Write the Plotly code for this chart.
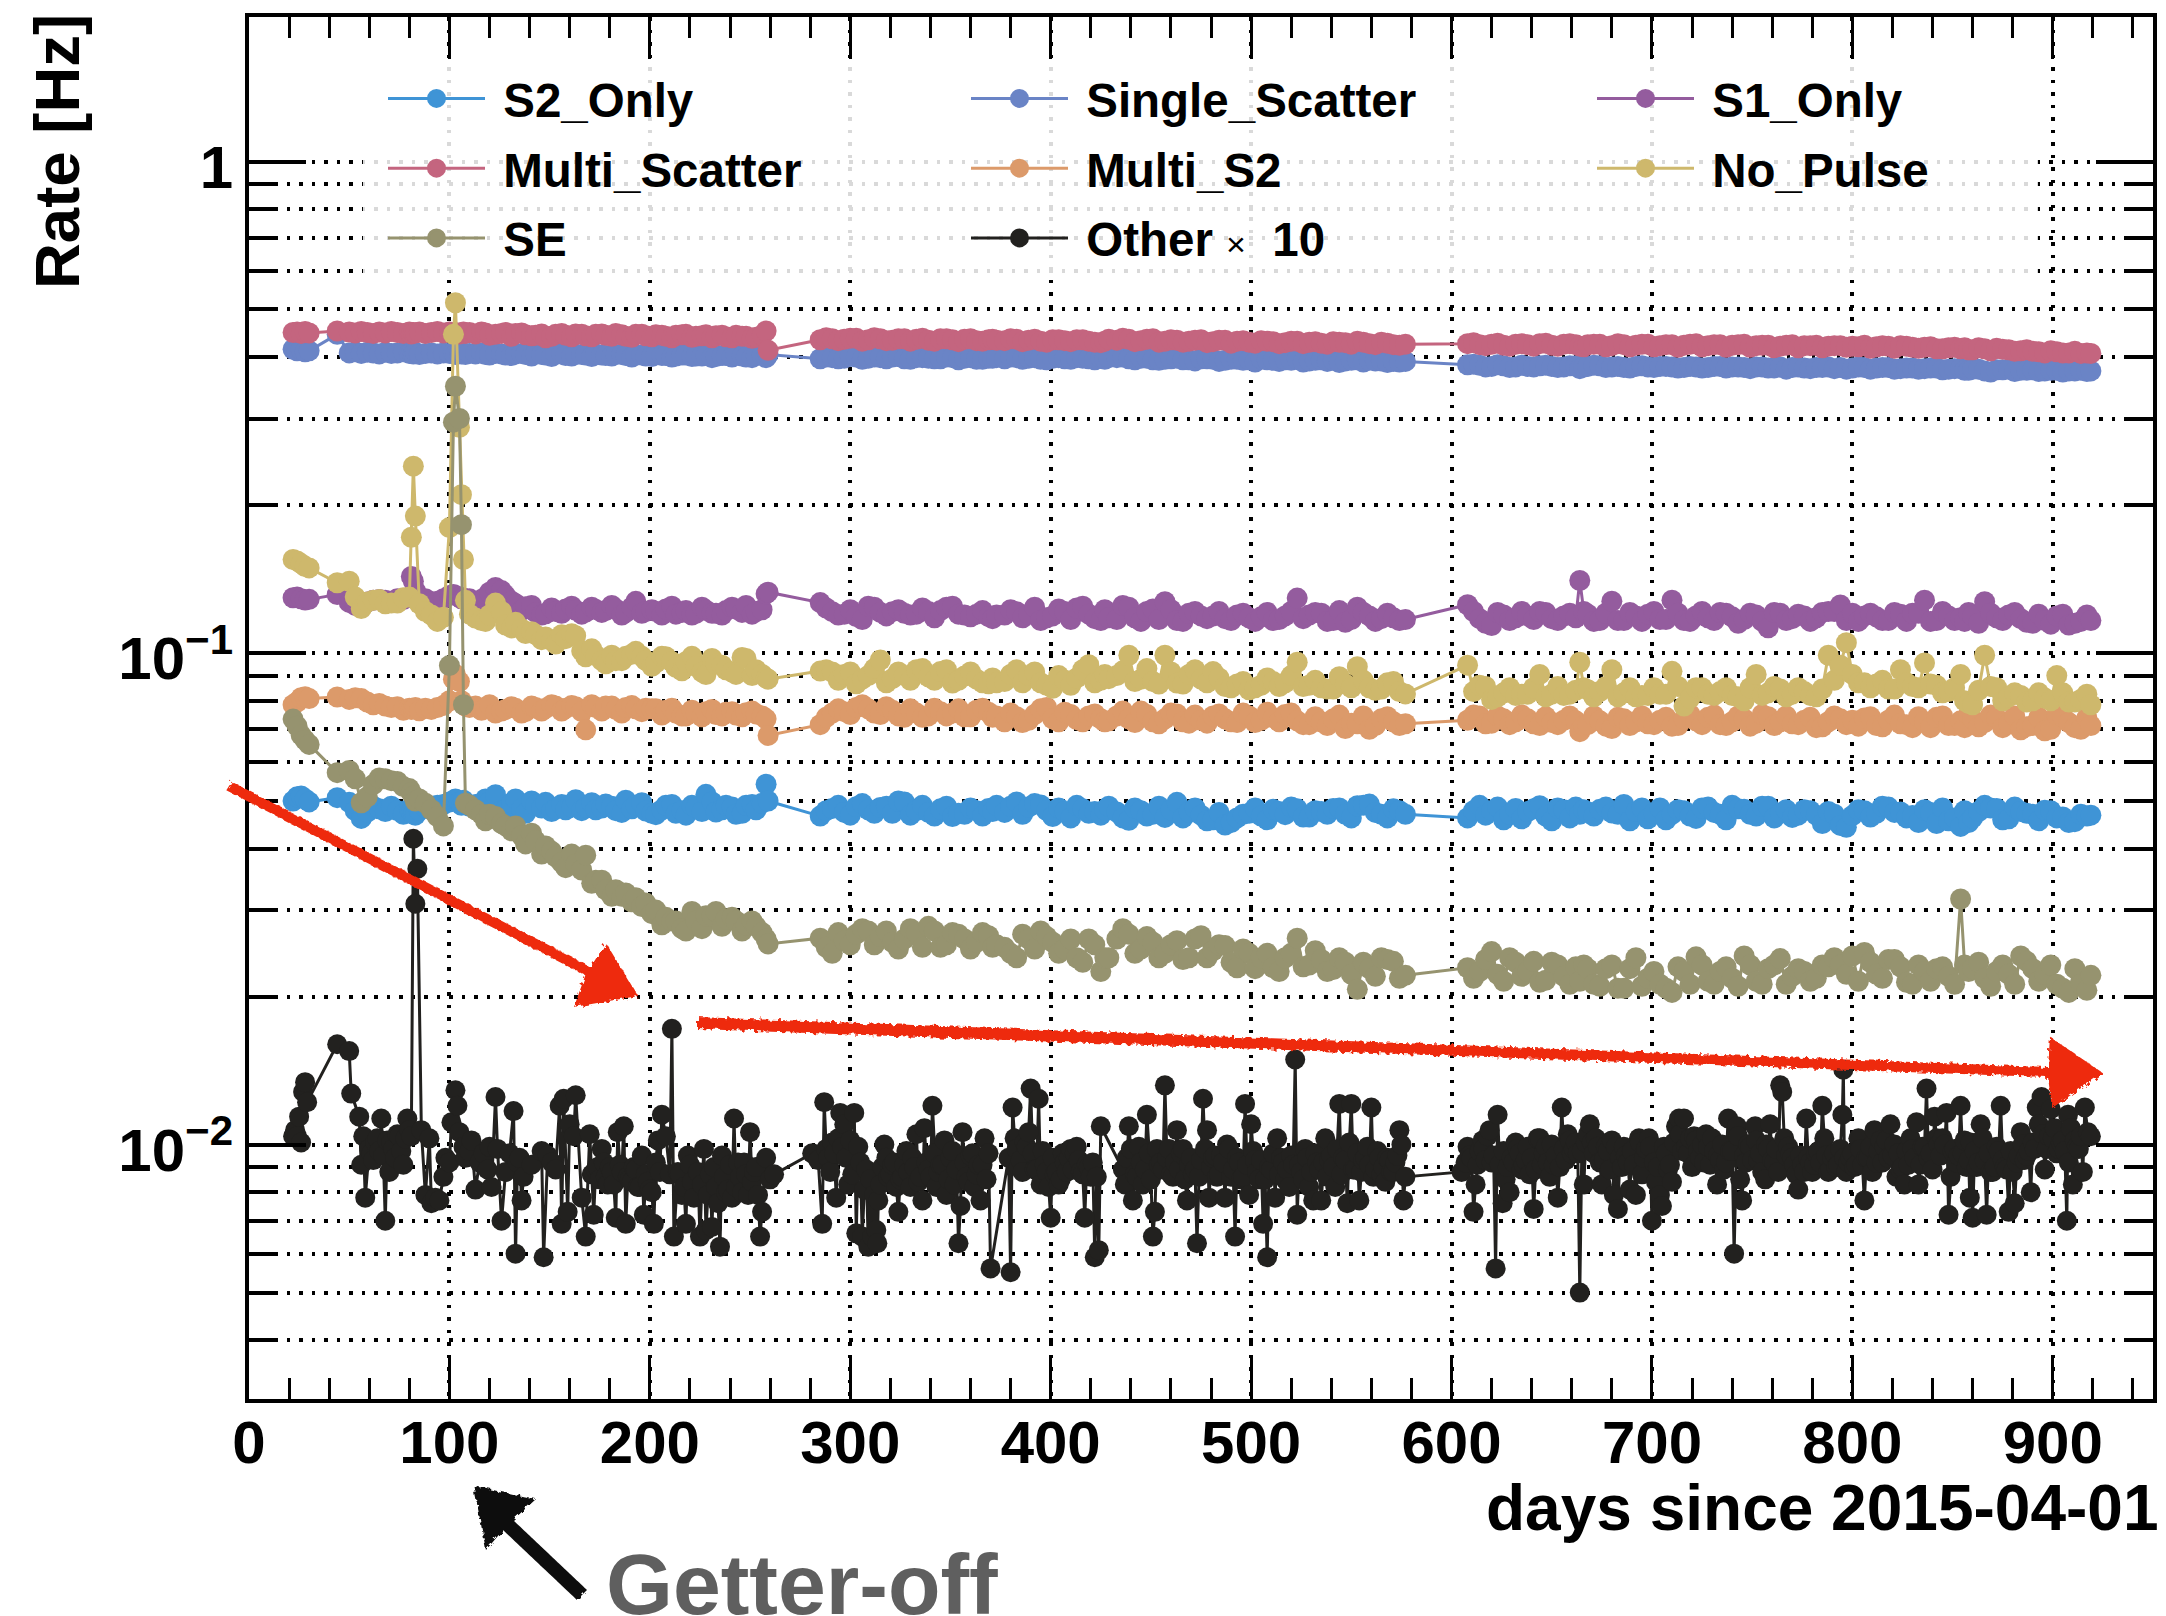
import plotly.graph_objects as go

# ---------- data ----------
days = (
    [22,24,26,28,30]
  + [44,50,53,56,59,62,65,68,71,74,77,80,81,82,83,85,88,91,94,97,100,102,103,105,106,107,108,110]
  + [113,118,123,128,133,138,143,148,153,158,163,168,173,178,183,188,193,198,203,208,213,218,223,228,233,238,243,248,253,256,258,259]
  + [285,291,297,303,309,315,321,327,333,339,345,351,357,363,369,373]
  + [377,383,389,395,401,407,413,419,425,429]
  + [433,439,445,451,457,463,469,475,481,487,493,499,505,511,517,523,529,535,541,547,553,559,565,571,577]
  + [608,614,620,626,632,638,644,650,656,662,664,668,674,680,686,692,698,704,710,716,722,728,734,740,746,752,758,764,770,776,
     782,788,794,797,800,806,812,818,824,830,836,842,848,854,856,860,866,872,878,884,890,896,902,908,914,919]
)
# further readings inside the dense bands
days_b = (
    [116,120,126,131,136,141,146,151,156,161,166,171,176,181,186,191,196,201,206,211,216,221,226,231,236,241,246,251]
  + [288,294,300,306,312,318,324,330,336,342,348,354,360,366,371]
  + [380,386,392,398,404,410,416,422,427]
  + [436,442,448,454,460,466,472,478,484,490,496,502,508,514,520,526,532,538,544,550,556,562,568,574]
  + [611,617,623,629,635,641,647,653,659,666,671,677,683,689,695,701,707,713,719,725,731,737,743,749,755,761,767,773,779,785,791,
     803,809,815,821,827,833,839,845,851,858,863,869,875,881,887,893,899,905,911,917]
)

s2_only = (
    [.0500,.0510,.0512,.0505,.0498]
  + [.0508,.0497,.0478,.0461,.0475,.0488,.0482,.0476,.0488,.0478,.0470,.0482,.0475,.0470,.0468,.0478,.0485,.0480,.0490,.0492,.0498,.0500,.0505,.0498,.0490,.0502,.0495,.0488]
  + [.0492,.0505,.0515,.0480,.0505,.0472,.0490,.0497,.0482,.0480,.0503,.0486,.0480,.0493,.0478,.0502,.0490,.0477,.0469,.0490,.0472,.0468,.0485,.0516,.0475,.0490,.0470,.0490,.0480,.0495,.0541,.0500]
  + [.0466,.0483,.0474,.0487,.0480,.0485,.0472,.0498,.0478,.0474,.0482,.0465,.0470,.0478,.0483,.0490]
  + [.0474,.0498,.0486,.0491,.0465,.0476,.0490,.0472,.0468,.0488]
  + [.0475,.0457,.0478,.0470,.0463,.0497,.0475,.0468,.0458,.0447,.0462,.0472,.0466,.0481,.0469,.0482,.0464,.0476,.0483,.0470,.0489,.0493,.0470,.0482,.0470]
  + [.0462,.0490,.0478,.0458,.0483,.0476,.0489,.0456,.0480,.0486,.0470,.0475,.0481,.0473,.0492,.0476,.0460,.0484,.0470,.0478,
     .0461,.0486,.0470,.0490,.0481,.0466,.0488,.0472,.0463,.0480,.0468,.0476,.0446,.0442,.0467,.0478,.0472,.0486,.0475,.0467,
     .0480,.0450,.0456,.0444,.0478,.0462,.0490,.0483,.0460,.0476,.0470,.0479,.0462,.0452,.0470,.0468]
)
s2_only_b = (
    [.0488,.0498,.0478,.0495,.0482,.0500,.0484,.0476,.0492,.0486,.0478,.0496,.0484,.0488,.0474,.0482,.0496,.0472,.0480,.0492,.0478,.0490,.0476,.0498,.0480,.0486,.0472,.0492]
  + [.0478,.0490,.0468,.0494,.0472,.0488,.0500,.0468,.0490,.0466,.0488,.0472,.0484,.0466,.0476]
  + [.0488,.0470,.0494,.0478,.0484,.0462,.0482,.0476,.0480]
  + [.0462,.0484,.0466,.0488,.0480,.0462,.0484,.0456,.0474,.0452,.0470,.0484,.0458,.0476,.0486,.0464,.0478,.0470,.0484,.0462,.0490,.0474,.0462,.0478]
  + [.0478,.0468,.0486,.0470,.0460,.0482,.0466,.0484,.0462,.0480,.0466,.0486,.0470,.0456,.0484,.0472,.0458,.0480,.0466,.0484,
     .0474,.0458,.0482,.0470,.0488,.0462,.0480,.0468,.0478,.0450,.0470,.0480,.0464,.0488,.0474,.0462,.0452,.0474,.0484,.0462,
     .0452,.0476,.0484,.0458,.0486,.0472,.0456,.0478,.0464,.0454,.0466]
)

single_scatter = (
    [.415,.412,.414,.410,.412]
  + [.445,.408,.410,.407,.409,.408,.406,.409,.407,.408,.410,.407,.408,.406,.409,.405,.407,.408,.406,.408,.407,.409,.405,.407,.406,.408,.405,.407]
  + [.406,.405,.407,.404,.406,.405,.407,.404,.406,.403,.405,.404,.406,.403,.405,.403,.404,.402,.405,.403,.402,.404,.402,.403,.401,.403,.404,.400,.403,.404,.399,.405]
  + [.397,.399,.398,.400,.398,.399,.400,.397,.399,.398,.397,.399,.398,.396,.398,.399]
  + [.397,.399,.398,.396,.398,.397,.399,.397,.398,.399]
  + [.399,.397,.398,.395,.396,.398,.395,.397,.396,.394,.396,.395,.397,.394,.395,.396,.393,.395,.394,.393,.395,.394,.393,.392,.392]
  + [.386,.385,.383,.384,.382,.383,.384,.383,.382,.384,.379,.383,.384,.382,.381,.383,.382,.383,.382,.381,
     .382,.381,.383,.382,.381,.382,.380,.382,.381,.380,.381,.382,.381,.378,.380,.381,.380,.381,.379,.380,
     .379,.380,.378,.379,.376,.378,.375,.377,.378,.376,.377,.375,.376,.375,.376,.375]
)
single_scatter_b = (
    [.408,.404,.406,.403,.407,.402,.405,.401,.406,.402,.405,.401,.404,.402,.405,.400,.404,.401,.403,.400,.404,.401,.402,.399,.403,.400,.402,.399]
  + [.400,.397,.401,.396,.400,.397,.401,.396,.399,.397,.400,.395,.399,.396,.398]
  + [.400,.396,.399,.395,.399,.396,.398,.395,.396]
  + [.400,.395,.398,.394,.397,.395,.393,.397,.392,.396,.394,.391,.395,.392,.394,.391,.394,.392,.390,.394,.391,.393,.390,.391]
  + [.387,.382,.386,.381,.385,.382,.385,.381,.384,.382,.385,.381,.383,.380,.384,.381,.383,.380,.383,.380,
     .383,.380,.382,.379,.382,.380,.378,.382,.379,.381,.379,.382,.378,.381,.378,.380,.378,.380,.377,.379,
     .376,.378,.373,.377,.374,.376,.374,.376,.373,.375,.374]
)

s1_only = (
    [.1296,.1300,.1290,.1282,.1286]
  + [.1315,.1268,.1250,.1240,.1270,.1280,.1285,.1280,.1275,.1290,.1285,.1300,.1432,.1400,.1340,.1300,.1290,.1270,.1275,.1290,.1310,.1315,.1310,.1300,.1290,.1295,.1285,.1290]
  + [.1270,.1300,.1360,.1310,.1260,.1243,.1210,.1202,.1215,.1230,.1222,.1212,.1226,.1220,.1230,.1210,.1274,.1215,.1215,.1230,.1200,.1220,.1205,.1222,.1205,.1220,.1230,.1250,.1215,.1225,.1320,.1330]
  + [.1267,.1214,.1200,.1187,.1245,.1210,.1214,.1205,.1200,.1215,.1220,.1245,.1195,.1200,.1187,.1195]
  + [.1195,.1214,.1200,.1165,.1190,.1215,.1235,.1200,.1165,.1180]
  + [.1170,.1240,.1160,.1230,.1272,.1165,.1205,.1190,.1190,.1175,.1195,.1180,.1185,.1165,.1190,.1294,.1195,.1205,.1165,.1155,.1240,.1190,.1175,.1180,.1170]
  + [.1254,.1175,.1138,.1195,.1180,.1190,.1215,.1175,.1190,.1180,.1405,.1200,.1165,.1275,.1165,.1190,.1200,.1170,.1281,.1165,
     .1190,.1180,.1210,.1185,.1170,.1195,.1126,.1205,.1175,.1190,.1180,.1215,.1253,.1165,.1205,.1190,.1185,.1165,.1200,.1205,
     .1281,.1165,.1190,.1180,.1160,.1190,.1272,.1180,.1195,.1175,.1150,.1165,.1190,.1140,.1160,.1165]
)
s1_only_b = (
    [.1285,.1330,.1340,.1275,.1220,.1250,.1195,.1235,.1205,.1245,.1200,.1240,.1210,.1250,.1195,.1240,.1205,.1225,.1195,.1245,.1210,.1195,.1240,.1205,.1195,.1240,.1210,.1200]
  + [.1235,.1195,.1225,.1170,.1240,.1190,.1225,.1195,.1235,.1180,.1240,.1200,.1185,.1220,.1175]
  + [.1225,.1180,.1240,.1180,.1230,.1170,.1245,.1175,.1225]
  + [.1250,.1180,.1215,.1170,.1225,.1160,.1215,.1175,.1215,.1165,.1205,.1160,.1210,.1170,.1215,.1175,.1210,.1160,.1220,.1170,.1210,.1160,.1205,.1165]
  + [.1215,.1150,.1210,.1165,.1215,.1170,.1210,.1165,.1205,.1215,.1160,.1205,.1165,.1210,.1160,.1215,.1170,.1205,.1160,.1215,
     .1165,.1205,.1150,.1205,.1160,.1210,.1165,.1200,.1160,.1210,.1215,.1160,.1205,.1165,.1210,.1160,.1205,.1160,.1215,.1165,
     .1210,.1150,.1205,.1165,.1210,.1155,.1200,.1145,.1200,.1150,.1195]
)

multi_scatter = (
    [.449,.450,.447,.451,.448]
  + [.452,.450,.448,.451,.449,.447,.450,.448,.451,.449,.447,.450,.446,.449,.448,.450,.447,.449,.451,.448,.450,.447,.449,.446,.448,.450,.447,.449]
  + [.446,.448,.445,.449,.447,.444,.443,.438,.445,.443,.446,.442,.445,.443,.447,.441,.445,.442,.444,.441,.443,.445,.441,.444,.442,.440,.443,.441,.439,.443,.452,.413]
  + [.434,.436,.435,.437,.434,.436,.433,.436,.435,.433,.436,.434,.435,.432,.434,.433]
  + [.432,.435,.433,.431,.434,.432,.434,.431,.428,.435]
  + [.433,.435,.432,.436,.431,.433,.431,.434,.430,.433,.431,.429,.432,.430,.428,.431,.429,.427,.430,.428,.431,.426,.429,.424,.425]
  + [.426,.424,.425,.423,.425,.424,.426,.423,.425,.424,.421,.424,.425,.422,.424,.423,.425,.422,.424,.423,
     .426,.422,.424,.423,.425,.422,.423,.421,.424,.422,.423,.421,.422,.419,.421,.423,.420,.421,.422,.419,
     .419,.416,.418,.416,.418,.414,.416,.417,.414,.412,.411,.408,.410,.408,.407,.407]
)
multi_scatter_b = (
    [.450,.443,.447,.441,.448,.442,.446,.441,.447,.440,.445,.440,.446,.441,.444,.439,.445,.440,.443,.438,.444,.439,.442,.438,.443,.438,.441,.437]
  + [.438,.432,.437,.431,.438,.432,.436,.431,.437,.431,.436,.430,.436,.431,.435]
  + [.436,.430,.435,.429,.434,.430,.434,.429,.431]
  + [.437,.430,.435,.429,.434,.429,.433,.428,.433,.427,.432,.427,.431,.426,.431,.426,.430,.425,.429,.425,.429,.424,.427,.423]
  + [.428,.422,.427,.421,.426,.421,.427,.421,.426,.420,.425,.420,.426,.420,.425,.420,.424,.419,.425,.420,
     .424,.419,.424,.419,.423,.418,.423,.418,.422,.418,.422,.420,.417,.422,.417,.421,.417,.420,.416,.419,
     .414,.418,.412,.415,.411,.414,.410,.412,.408,.411,.408]
)

multi_s2 = (
    [.0785,.0795,.0811,.0815,.0808]
  + [.0814,.0805,.0811,.0808,.0795,.0785,.0790,.0780,.0775,.0778,.0765,.0772,.0768,.0770,.0775,.0763,.0772,.0768,.0775,.0782,.0800,.0885,.0905,.0875,.0800,.0788,.0780,.0775]
  + [.0780,.0770,.0755,.0768,.0772,.0760,.0775,.0772,.0780,.0772,.0778,.0698,.0775,.0780,.0768,.0775,.0770,.0772,.0770,.0765,.0755,.0745,.0755,.0760,.0750,.0758,.0748,.0756,.0752,.0745,.0735,.0680]
  + [.0715,.0755,.0760,.0775,.0770,.0750,.0765,.0740,.0755,.0745,.0760,.0755,.0742,.0765,.0758,.0745]
  + [.0725,.0742,.0730,.0770,.0735,.0758,.0732,.0745,.0735,.0728]
  + [.0745,.0735,.0762,.0725,.0735,.0752,.0720,.0730,.0745,.0735,.0722,.0745,.0730,.0738,.0750,.0728,.0715,.0725,.0735,.0702,.0718,.0700,.0735,.0725,.0718]
  + [.0730,.0745,.0720,.0735,.0725,.0735,.0712,.0722,.0730,.0728,.0692,.0715,.0728,.0702,.0735,.0725,.0718,.0730,.0710,.0735,
     .0728,.0740,.0715,.0725,.0735,.0720,.0742,.0725,.0718,.0730,.0705,.0725,.0735,.0715,.0730,.0738,.0712,.0730,.0718,.0705,
     .0725,.0740,.0712,.0728,.0705,.0735,.0722,.0738,.0718,.0698,.0712,.0695,.0750,.0722,.0700,.0712]
)
multi_s2_b = (
    [.0765,.0785,.0762,.0778,.0755,.0780,.0762,.0785,.0762,.0782,.0760,.0785,.0762,.0780,.0755,.0782,.0760,.0770,.0748,.0772,.0745,.0765,.0742,.0768,.0745,.0760,.0742,.0762]
  + [.0740,.0770,.0750,.0785,.0755,.0778,.0745,.0770,.0740,.0772,.0745,.0770,.0742,.0772,.0740]
  + [.0755,.0722,.0750,.0775,.0725,.0750,.0725,.0752,.0725]
  + [.0762,.0722,.0750,.0718,.0755,.0725,.0748,.0720,.0752,.0725,.0755,.0722,.0758,.0725,.0755,.0715,.0742,.0712,.0748,.0720,.0745,.0712,.0742,.0712]
  + [.0748,.0718,.0745,.0715,.0748,.0718,.0742,.0715,.0745,.0712,.0745,.0710,.0740,.0712,.0745,.0715,.0740,.0712,.0750,.0715,
     .0748,.0712,.0745,.0710,.0750,.0712,.0745,.0715,.0740,.0708,.0745,.0710,.0742,.0708,.0748,.0715,.0742,.0705,.0745,.0712,
     .0750,.0708,.0748,.0705,.0745,.0708,.0740,.0700,.0742,.0705,.0738]
)

no_pulse = (
    [.155,.154,.152,.150,.149]
  + [.139,.140,.130,.1232,.1270,.1280,.1285,.1260,.1265,.1264,.1296,.1300,.172,.240,.190,.126,.1215,.1195,.1160,.1182,.180,.445,.516,.288,.210,.155,.128,.120]
  + [.1178,.1160,.1264,.1140,.1155,.1096,.1090,.1078,.1043,.1070,.1085,.0983,.0990,.0951,.0965,.0985,.1008,.0965,.0955,.0983,.0935,.0960,.0940,.0904,.0950,.0925,.0905,.0975,.0925,.0905,.0890,.0885]
  + [.0919,.0915,.0905,.0866,.0900,.0968,.0887,.0900,.0925,.0895,.0917,.0869,.0898,.0885,.0866,.0870]
  + [.0875,.0925,.0900,.0870,.0848,.0880,.0890,.0947,.0880,.0887]
  + [.0900,.0990,.0885,.0875,.0990,.0869,.0905,.0885,.0917,.0855,.0865,.0842,.0860,.0875,.0870,.0958,.0860,.0850,.0845,.0865,.0938,.0850,.0845,.0875,.0826]
  + [.0945,.0860,.0805,.0830,.0820,.0825,.0905,.0825,.0820,.0840,.0958,.0842,.0835,.0925,.0830,.0815,.0820,.0825,.0918,.0780,
     .0850,.0825,.0835,.0820,.0800,.0905,.0830,.0845,.0825,.0835,.0815,.0990,.0945,.1050,.0905,.0870,.0865,.0845,.0925,.0855,
     .0955,.0860,.0835,.0905,.0800,.0785,.0990,.0850,.0815,.0820,.0800,.0810,.0900,.0795,.0805,.0785]
)
no_pulse_b = (
    [.1165,.1195,.1215,.1125,.1120,.1105,.1065,.1060,.1090,.1095,.1010,.1020,.0965,.0990,.0965,.0995,.0985,.0940,.0985,.0960,.0920,.0985,.0915,.0975,.0945,.0915,.0980,.0900]
  + [.0925,.0880,.0915,.0885,.0930,.0870,.0915,.0880,.0930,.0880,.0925,.0880,.0915,.0870,.0890]
  + [.0905,.0870,.0915,.0860,.0900,.0860,.0925,.0870,.0905]
  + [.0920,.0875,.0930,.0865,.0915,.0865,.0925,.0870,.0890,.0850,.0875,.0850,.0890,.0855,.0900,.0855,.0880,.0845,.0895,.0850,.0880,.0840,.0870,.0835]
  + [.0835,.0855,.0815,.0850,.0825,.0850,.0815,.0855,.0825,.0850,.0815,.0855,.0815,.0850,.0820,.0850,.0825,.0855,.0810,.0850,
     .0820,.0850,.0815,.0850,.0820,.0855,.0815,.0850,.0820,.0845,.0880,.0870,.0850,.0880,.0845,.0870,.0850,.0865,.0830,.0850,
     .0790,.0840,.0855,.0800,.0830,.0795,.0830,.0800,.0830,.0795,.0825]
)

se = (
    [.0734,.0710,.0681,.0665,.0652]
  + [.0571,.0577,.0555,.0496,.0510,.0540,.0557,.0555,.0550,.0548,.0535,.0530,.0520,.0512,.0500,.0505,.0495,.0480,.0465,.0445,.0943,.295,.349,.300,.1825,.0785,.0495,.0490]
  + [.0480,.0456,.0465,.0445,.0445,.0409,.0415,.0405,.0385,.0366,.0372,.0388,.0345,.0330,.0330,.0325,.0318,.0310,.0300,.0290,.0285,.0272,.0285,.0292,.0298,.0288,.0285,.0280,.0278,.0270,.0262,.0256]
  + [.0263,.0245,.0260,.0268,.0272,.0265,.0258,.0262,.0270,.0278,.0252,.0270,.0262,.0258,.0266,.0255]
  + [.0252,.0240,.0262,.0272,.0258,.0250,.0240,.0262,.0225,.0240]
  + [.0262,.0268,.0250,.0258,.0245,.0260,.0240,.0266,.0248,.0254,.0229,.0245,.0240,.0229,.0240,.0263,.0232,.0238,.0227,.0235,.0207,.0228,.0240,.0236,.0221]
  + [.0229,.0225,.0247,.0215,.0235,.0225,.0214,.0235,.0220,.0230,.0215,.0228,.0210,.0232,.0208,.0240,.0218,.0212,.0204,.0225,
     .0241,.0215,.0225,.0218,.0242,.0215,.0228,.0239,.0220,.0225,.0218,.0230,.0232,.0222,.0242,.0246,.0222,.0238,.0230,.0212,
     .0225,.0228,.0220,.0316,.0232,.0228,.0218,.0225,.0222,.0242,.0228,.0222,.0212,.0204,.0212,.0221]
)
se_b = (
    [.0470,.0470,.0450,.0435,.0425,.0430,.0390,.0395,.0375,.0390,.0362,.0340,.0345,.0320,.0320,.0312,.0305,.0295,.0280,.0285,.0275,.0298,.0275,.0292,.0278,.0290,.0272,.0285]
  + [.0252,.0270,.0255,.0275,.0255,.0272,.0250,.0275,.0252,.0272,.0255,.0268,.0250,.0270,.0252]
  + [.0245,.0268,.0250,.0265,.0245,.0262,.0235,.0255,.0240]
  + [.0275,.0245,.0265,.0240,.0255,.0238,.0262,.0240,.0255,.0235,.0250,.0228,.0245,.0225,.0245,.0230,.0248,.0225,.0240,.0222,.0235,.0220,.0238,.0218]
  + [.0218,.0238,.0222,.0240,.0220,.0236,.0216,.0232,.0212,.0232,.0212,.0228,.0208,.0228,.0210,.0225,.0208,.0230,.0212,.0232,
     .0212,.0230,.0210,.0232,.0212,.0232,.0212,.0228,.0215,.0232,.0240,.0215,.0235,.0218,.0238,.0214,.0232,.0215,.0230,.0212,
     .0225,.0235,.0210,.0232,.0212,.0236,.0215,.0232,.0208,.0228,.0206]
)

other_days = [
    22,23,24,25,26,27,28,29,44,50,51,55,56,57,58,60,62,64,66,67,68,70,71,73,75,77,79,80,81,82,83,84,86,88,90,91,93,95,97,98,100,101,103,104,105,107,108,110,111,113,115,117,119,120,121,123,124,126,128,130,132,133,134,135,136,137,141,146,147,149,151,153,155,156,157,159,160,162,163,
    166,168,170,171,172,174,176,178,180,182,183,184,186,187,188,190,192,194,196,197,199,201,202,204,206,208,210,211,212,214,216,218,219,221,225,227,228,230,231,233,235,236,238,240,242,243,245,247,249,250,252,254,255,256,258,260,262,
    281,284,286,287,289,291,293,295,297,299,302,303,304,306,308,309,311,313,313.5,314,316,317,319,321,323,324,326,328,330,332,333,335,336,337,339,341,343,345,347,348,350,352,354,355,356,358,360,362,364,365,367,369,370,
    379,380,381,382,384,386,388,389,390,392,394,395,396,398,400,402,404,406,408,410,413,415,417,419,421,422,423,424,425,
    436,437,439,441,443,444,446,448,450,451,452,453,455,456,457,459,461,463,464,466,468,470,472,473,474,476,478,479,481,483,485,487,488,490,492,494,495,497,499,500,502,504,506,508,510,512,513,515,517,519,521,522,523,525,527,529,531,533,535,537,539,542,544,546,548,549,550,552,554,556,558,560,562,564,565,568,570,572,574,575,576,577,
    605,607,610,611,612,614,615.5,617,619,621,622,623,624,625.5,627,629,631,633,635,637,639,641,643,645,647,649,651,653,655,657,659,661,663,664,666,667,669,672,674,675,677,679,681,682,683,685,687,689,691,692,693.5,695,697,698.5,700,702,704,705,706,708,710,712,713.5,715,716,718,720,722,724,727,729,731,732.5,734,736,738,739,741,742.4,744,745,747,749,751.5,753,755,756.5,758,759,761,763,764,765,767,768,770,772,773,775,777,779,780,782,784,785,786,788,790,792,794,795,795.5,797,799,801,803,805,806,808,810,811,813,815,817,819,820,822,824,826,828,830,832,833,835,837,839,841,843,845,847,848,849,851,853,854,856,858,858.6,860,862,864,866,867,869,871,873,874,876,878,880,881,883,884,886,888,889,891,892,893,894.4,896,898,899,901,903,905,907,907.6,909,910,912,914,915,916,917.5,919,
]
other_x10 = [
    .0104,.0107,.0104,.0114,.0101,.0128,.0134,.0122,.016,.0155,.0127,.0114,.0091,.0104,.0078,.0098,.0093,.0103,.0113,.0095,.007,.0088,.0101,.0094,.0104,.0091,.0113,.0107,.0104,.0419,.0309,.0364,.0107,.0079,.0103,.0076,.0078,.0077,.0086,.0094,.0092,.0111,.0129,.012,.0106,.0099,.0094,.0097,.0102,.0081,.0092,.0096,.0089,.0099,.0082,.0125,.0098,.007,.0088,.0096,.0117,.006,.0092,.0094,.0077,.0086,.0091,.0097,.0059,.0095,.0092,.0089,.012,.0069,.0124,.0073,.011,.0104,.0126,
    .0078,.0065,.0105,.0087,.0072,.009,.0098,.0086,.009,.0083,.0071,.0106,.0088,.0109,.0069,.0085,.009,.0082,.0095,.0072,.0084,.008,.0069,.0102,.0115,.0104,.0087,.0172,.0065,.0088,.0079,.0069,.0095,.0084,.0065,.0098,.0067,.0087,.0068,.0082,.0062,.0095,.008,.0091,.0113,.0082,.0086,.0092,.0079,.0106,.0088,.0079,.0065,.0073,.0094,.0085,.0087,
    .0096,.0093,.0069,.0122,.0094,.0101,.0078,.0116,.011,.0083,.0116,.0066,.0099,.0065,.0089,.0062,.0065,.0067,.0063,.0077,.009,.01,.0086,.0091,.0082,.0073,.0086,.0097,.0082,.009,.0105,.0086,.0077,.0108,.0089,.012,.0082,.0091,.0102,.0079,.0094,.0083,.0063,.0075,.0106,.0086,.0095,.0082,.0091,.0077,.0103,.0096,.0056,
    .0094,.0055,.0119,.0103,.009,.0088,.0099,.0106,.013,.0089,.0124,.0083,.0097,.0088,.0071,.0087,.0083,.0096,.0088,.0098,.0099,.0088,.0071,.009,.0092,.0059,.0086,.0061,.0109,
    .0089,.0083,.0109,.0077,.0086,.0099,.0083,.0115,.0085,.0065,.0073,.0098,.0092,.0089,.0132,.0098,.0086,.0107,.0089,.0098,.0077,.0094,.0089,.0063,.0086,.0124,.0107,.0078,.0094,.0086,.0095,.0078,.01,.0086,.0065,.0092,.0085,.0121,.0079,.011,.0093,.0085,.0069,.0059,.0089,.0078,.0103,.0094,.0085,.0082,.0091,.0149,.0072,.0088,.0098,.0082,.0077,.0092,.0077,.0103,.0093,.0082,.0121,.0094,.0076,.0101,.0121,.0089,.0077,.0093,.0099,.0119,.0089,.0094,.0087,.0094,.0088,.0092,.0107,.01,.0077,.0086,
    .0088,.0092,.0094,.0073,.0083,.0097,.0102,.0093,.0107,.0095,.0056,.0115,.0091,.0076,.0085,.008,.0092,.0098,.0089,.0093,.0087,.0074,.0103,.0091,.0099,.0086,.0091,.0078,.0119,.0093,.0102,.0098,.0096,.005,.0083,.0101,.011,.0103,.0092,.0083,.0099,.0089,.0079,.0099,.0074,.009,.0095,.0081,.0091,.0079,.0103,.0087,.0098,.0103,.007,.0084,.0079,.0075,.0099,.0089,.0084,.0109,.0113,.0097,.0113,.0096,.009,.0102,.0094,.0105,.0091,.0097,.0083,.0093,.0089,.0113,.0097,.006,.0109,.0085,.0077,.0092,.0099,.0109,.0093,.0088,.0085,.0098,.011,.0092,.0088,.0132,.0128,.0095,.0099,.0094,.0087,.0081,.0091,.0113,.0092,.0088,.0096,.0092,.012,.0103,.0088,.0094,.009,.0098,.0115,.0142,.0088,.0094,.009,.0103,.0091,.0077,.0094,.0088,.0107,.0097,.0092,.0102,.011,.0095,.0086,.0089,.0083,.0091,.0098,.0111,.0083,.0099,.013,.0096,.0114,.01,.0103,.0116,.0072,.0086,.0098,.0095,.012,.0102,.0093,.0078,.0071,.009,.011,.0093,.0072,.0088,.009,.0097,.012,.009,.0073,.0088,.0076,.0095,.0106,.0093,.0097,.008,.0098,.0119,.011,.0125,.0089,.0104,.0118,.0108,.0098,.0102,.007,.0115,.0108,.0083,.0099,.0104,.0088,.0119,.0106,.0104,
]
# further readings inside the dense mass of the Other band
other_days_b = (
    [61,63,65,69,72,74,76,78]
  + [173,175,177,179,181,185,189,191,193,195,198,200,203,205]
  + [215,217,220,222,224,226,229,232,234,237,239,241,244,246,248,251,253]
  + [288,290,292,294,296,298,300,301,305,307,310,312,315,318,320,322,325,327,329,331,334,338,340,342,344,346,349,351,353,357,359,361,363,366,368]
  + [383,385,387,391,393,397,399,401,403,405,407,409,411,412,414,416,418,420]
  + [438,440,442,445,447,449,454,458,460,462,465,467,469,471,475,477,480,482,484,486,489,491,493,496,498,501,503,505,507,509,
     511,514,516,518,520,524,526,528,530,532,534,536,538,540,541,543,545,547,551,553,555,557,559,561,563,566,567,569,571,573]
  + [608,609,613,616,618,620,626,628,630,632,634,636,638,640,642,644,646,648,650,652,654,656,658,660,662,665,668,670,671,673,
     676,678,680,684,686,688,690,694,696,699,701,703,707,709,711,714,717,719]
  + [721,723,725,726,728,730,733,735,737,740,743,746,748,750,752,754,757,760,762,766,769,771,774,776,778,781,783,787,789,791,
     793,796,798,800,802,804,807,809,812,814,816,818,821,823,825,827,829,831,834,836,838,840,842,844,846,850,852,855,857,859,
     861,863,865,868,870,872,875,877,879,882,885,887,890,895,897,900,902,904,906,908,911,913]
)
other_x10_b = (
    [.0096,.0101,.0097,.0102,.0098,.0105,.0097,.0103]
  + [.0089,.0085,.0092,.0083,.0088,.0091,.0086,.0084,.0089,.0082,.0087,.0081,.0092,.0088]
  + [.0087,.0082,.0091,.0078,.0088,.0083,.0079,.0090,.0076,.0086,.0081,.0078,.0092,.0080,.0087,.0084,.0090]
  + [.0098,.0088,.0096,.0103,.0099,.0094,.0102,.0087,.0092,.0081,.0085,.0079,.0083,.0094,.0087,.0092,.0085,.0091,.0088,.0094,
     .0084,.0092,.0086,.0096,.0088,.0091,.0085,.0097,.0089,.0092,.0084,.0096,.0087,.0091,.0085]
  + [.0098,.0093,.0101,.0096,.0089,.0091,.0082,.0094,.0088,.0085,.0092,.0094,.0089,.0096,.0093,.0087,.0091,.0086]
  + [.0094,.0098,.0087,.0092,.0089,.0096,.0091,.0094,.0087,.0092,.0096,.0085,.0091,.0087,.0093,.0098,.0090,.0095,.0087,.0092,
     .0098,.0089,.0094,.0086,.0091,.0097,.0088,.0093,.0085,.0090,.0096,.0087,.0092,.0089,.0095,.0091,.0085,.0094,.0088,.0096,
     .0089,.0092,.0086,.0095,.0090,.0098,.0087,.0093,.0089,.0096,.0088,.0094,.0091,.0086,.0097,.0090,.0084,.0093,.0088,.0095]
  + [.0099,.0095,.0091,.0098,.0104,.0092,.0097,.0090,.0094,.0101,.0096,.0091,.0099,.0094,.0089,.0103,.0096,.0092,.0100,.0095,
     .0090,.0098,.0105,.0096,.0101,.0097,.0105,.0101,.0096,.0099,.0093,.0097,.0102,.0094,.0099,.0092,.0097,.0101,.0094,.0099,
     .0092,.0090,.0096,.0091,.0101,.0105,.0099,.0103]
  + [.0104,.0097,.0100,.0092,.0099,.0103,.0095,.0100,.0092,.0097,.0104,.0095,.0100,.0093,.0102,.0096,.0100,.0093,.0098,.0103,
     .0096,.0091,.0095,.0088,.0094,.0091,.0097,.0095,.0089,.0096,.0091,.0094,.0092,.0096,.0091,.0098,.0094,.0099,.0092,.0102,
     .0099,.0094,.0100,.0096,.0090,.0097,.0103,.0094,.0091,.0099,.0094,.0089,.0103,.0095,.0100,.0097,.0092,.0096,.0090,.0101,
     .0097,.0092,.0103,.0096,.0088,.0099,.0093,.0089,.0097,.0092,.0100,.0095,.0101,.0105,.0098,.0103,.0096,.0101,.0097,.0092,
     .0102,.0098]
)

x_ticks = [0, 100, 200, 300, 400, 500, 600, 700, 800, 900]
y_major_vals = [1, 0.1, 0.01]
y_major_text = ["1", "10<sup>\u22121</sup>", "10<sup>\u22122</sup>"]
y_minor_vals = [.004,.005,.006,.007,.008,.009,.02,.03,.04,.05,.06,.07,.08,.09,.2,.3,.4,.5,.6,.7,.8,.9]

for n, s, t in [("s2", s2_only, s2_only_b), ("ss", single_scatter, single_scatter_b), ("s1", s1_only, s1_only_b),
                ("ms", multi_scatter, multi_scatter_b), ("m2", multi_s2, multi_s2_b), ("np", no_pulse, no_pulse_b), ("se", se, se_b)]:
    assert len(s) == len(days), (n, len(s), len(days))
    assert len(t) == len(days_b), (n, "b", len(t), len(days_b))
assert len(other_days) == len(other_x10), (len(other_days), len(other_x10))
assert len(other_days_b) == len(other_x10_b), (len(other_days_b), len(other_x10_b))

# ---------- geometry in page pixels ----------
W, H = 2166, 1616
L, R, T, B = 249, 2153, 17, 1399
X_RANGE = [0, 950]
Y_RANGE = [-2.5175, 0.294]
def px(x): return (x - L) / (R - L)
def py(y): return 1 - (y - T) / (B - T)
def xval(x): return X_RANGE[0] + px(x) * (X_RANGE[1] - X_RANGE[0])
def yval(y): return 10 ** (Y_RANGE[0] + py(y) * (Y_RANGE[1] - Y_RANGE[0]))
def path(points):
    return "M " + " L ".join(f"{px(a):.5f} {py(b):.5f}" for a, b in points) + " Z"

FONT = "Liberation Sans"
fig = go.Figure()

def add(name, xa, xb, a, b, color, legend, size):
    pairs = sorted(zip(xa + xb, a + b), key=lambda p: p[0])
    fig.add_trace(go.Scatter(
        x=[p[0] for p in pairs], y=[p[1] for p in pairs], name="\u00a0" + name, mode="lines+markers",
        legend=legend, legendgroup=name,
        line=dict(color=color, width=3),
        marker=dict(color=color, size=size, line=dict(width=0)),
    ))

add("S2_Only", days, days_b, s2_only, s2_only_b, "#3F94D6", "legend", 21)
add("Single_Scatter", days, days_b, single_scatter, single_scatter_b, "#6A84C6", "legend2", 21)
add("S1_Only", days, days_b, s1_only, s1_only_b, "#945C9E", "legend3", 21)
add("Multi_Scatter", days, days_b, multi_scatter, multi_scatter_b, "#C4657F", "legend", 21)
add("Multi_S2", days, days_b, multi_s2, multi_s2_b, "#DC9A6A", "legend2", 21)
add("No_Pulse", days, days_b, no_pulse, no_pulse_b, "#CEB86C", "legend3", 21)
add("SE", days, days_b, se, se_b, "#96936F", "legend", 21)
add('Other\u00a0<span style="font-size:34px;font-weight:normal">\u00d7</span>\u00a0\u00a010',
    other_days, other_days_b, other_x10, other_x10_b, "#22211F", "legend2", 20)

def legend_at(x):
    return dict(x=px(x), y=py(61), xanchor="left", yanchor="top", bgcolor="rgba(0,0,0,0)",
                borderwidth=0, itemwidth=97, tracegroupgap=5, itemsizing="trace",
                font=dict(family=FONT, size=47.5, color="black", weight="bold"))

AXIS = dict(showline=True, linewidth=4, linecolor="black", mirror="allticks", zeroline=False,
            showgrid=True, gridcolor="black", gridwidth=3.5, griddash="3.5px,9px",
            tickfont=dict(family=FONT, size=60, color="black", weight="bold"), automargin=False)

fig.update_layout(
    width=W, height=H, autosize=False,
    paper_bgcolor="white", plot_bgcolor="white",
    margin=dict(l=L, r=W - R, t=T, b=H - B, pad=0),
    showlegend=True,
    legend=legend_at(383), legend2=legend_at(966), legend3=legend_at(1592),
    xaxis=dict(
        range=X_RANGE, tickmode="array", tickvals=x_ticks, ticktext=[str(v) for v in x_ticks],
        ticks="inside", ticklen=42, tickwidth=2.6, tickcolor="black", ticklabelstandoff=-12,
        minor=dict(dtick=20, tick0=0, ticks="inside", ticklen=21, tickwidth=2.6, tickcolor="black", showgrid=False),
        **AXIS,
    ),
    yaxis=dict(
        type="log", range=Y_RANGE, tickmode="array", tickvals=y_major_vals, ticktext=y_major_text,
        ticks="inside", ticklen=57, tickwidth=3.5, tickcolor="black", ticklabelshift=5,
        minor=dict(tickmode="array", tickvals=y_minor_vals, ticks="inside", ticklen=29, tickwidth=3.5, tickcolor="black",
                   showgrid=True, gridcolor="black", gridwidth=3.5, griddash="3.5px,9px"),
        **AXIS,
    ),
    shapes=[
        dict(type="rect", xref="x", yref="y", x0=xval(363), x1=xval(2038), y0=yval(65), y1=yval(280),
             fillcolor="rgba(255,255,255,0.85)", line_width=0, layer="between"),
        dict(type="path", xref="paper", yref="paper", fillcolor="#EE2A0E", line_width=0, layer="above",
             path=path([(231.7,781.7),(590.7,966.7),(606,943),(638,996),(574,1007),(585.3,975.3),(226.3,790.3)])),
        dict(type="path", xref="paper", yref="paper", fillcolor="#EE2A0E", line_width=0, layer="above",
             path=path([(697,1017),(2048,1067),(2050,1037),(2103,1073),(2052,1108),(2048,1077),(697,1029)])),
        dict(type="path", xref="paper", yref="paper", fillcolor="#0B0B0B", line_width=0, layer="above",
             path=path([(473.6,1486),(536,1499),(513,1520),(587,1590),(577,1600),(503,1530),(486,1550)])),
    ],
    annotations=[
        dict(text="Rate [Hz]", xref="paper", yref="paper", x=px(57), y=py(152), xanchor="center", yanchor="middle",
             textangle=-90, showarrow=False, font=dict(family=FONT, size=63.5, color="black", weight="bold")),
        dict(text="days since 2015-04-01", xref="paper", yref="paper", x=px(2160), y=py(1508), xanchor="right", yanchor="middle",
             showarrow=False, font=dict(family=FONT, size=64, color="black", weight="bold")),
        dict(text="Getter-off", xref="paper", yref="paper", x=px(802), y=py(1584), xanchor="center", yanchor="middle",
             showarrow=False, font=dict(family=FONT, size=86, color="#5F5F5F", weight="bold")),
    ],
)

post = """
document.body.style.margin='0';
function dress(){
  document.querySelectorAll('.legendpoints path.scatterpts').forEach(function(p){
    p.style.stroke=p.style.fill; p.style.strokeWidth='3px'; p.style.strokeOpacity='1';
  });
  var svg=document.querySelector('svg.main-svg');
  if(svg && !document.getElementById('roughen')){
    var ns='http://www.w3.org/2000/svg';
    var f=document.createElementNS(ns,'filter');
    f.setAttribute('id','roughen');
    f.setAttribute('x','-10%');f.setAttribute('y','-10%');f.setAttribute('width','120%');f.setAttribute('height','120%');
    var t=document.createElementNS(ns,'feTurbulence');
    t.setAttribute('type','fractalNoise');t.setAttribute('baseFrequency','0.22');t.setAttribute('numOctaves','2');t.setAttribute('seed','4');t.setAttribute('result','n');
    var d=document.createElementNS(ns,'feDisplacementMap');
    d.setAttribute('in','SourceGraphic');d.setAttribute('in2','n');d.setAttribute('scale','7');
    f.appendChild(t);f.appendChild(d);
    var defs=svg.querySelector('defs')||svg.insertBefore(document.createElementNS(ns,'defs'),svg.firstChild);
    defs.appendChild(f);
  }
  document.querySelectorAll('.shapelayer path').forEach(function(p){
    var c=p.style.fill;
    if(c==='rgb(238, 42, 14)'||c==='rgb(11, 11, 11)'){p.setAttribute('filter','url(#roughen)');}
  });
}
dress(); setTimeout(dress,150); setTimeout(dress,600);
"""
fig.write_html("out.html", post_script=post, config={"displayModeBar": False})
